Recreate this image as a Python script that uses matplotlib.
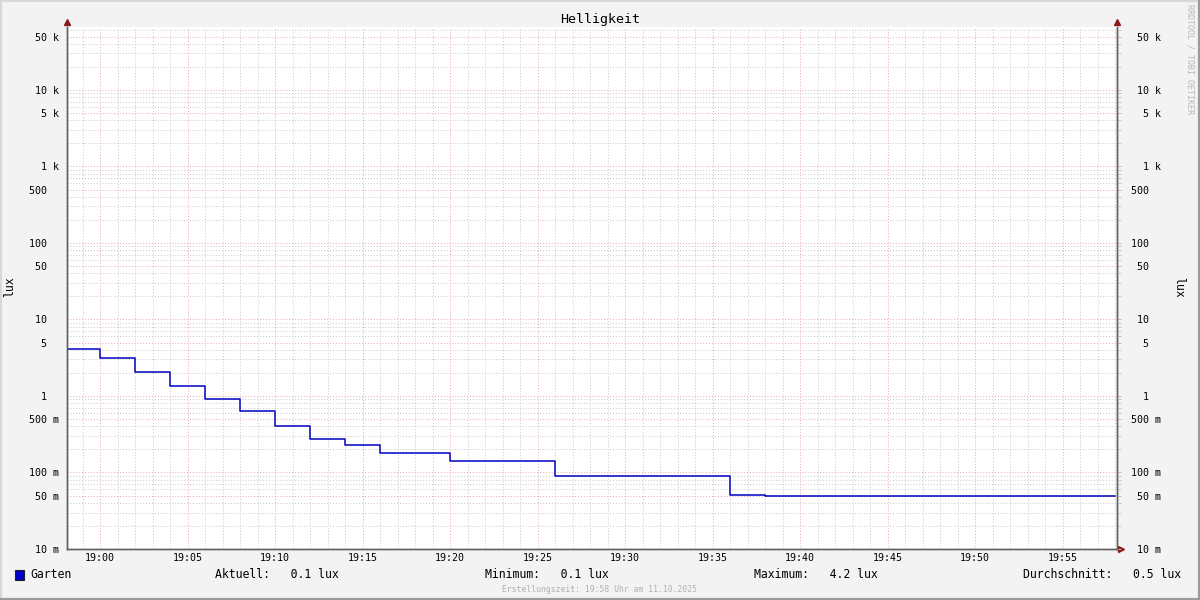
import matplotlib
matplotlib.use("Agg")
import matplotlib.pyplot as plt
from matplotlib.ticker import FixedLocator, FixedFormatter, LogLocator, MultipleLocator, NullFormatter
from matplotlib.lines import Line2D
from matplotlib.patches import Rectangle

# Messwerte (Stufen, jeweils gueltig ab Zeitpunkt)
zeiten = ["18:58", "19:00", "19:02", "19:04", "19:06", "19:08", "19:10", "19:12",
          "19:14", "19:16", "19:20", "19:26", "19:36", "19:38", "19:58"]
werte = [4.12, 3.14, 2.06, 1.35, 0.91, 0.64, 0.405, 0.274,
         0.229, 0.18, 0.141, 0.090, 0.051, 0.049, 0.049]

y_ticks = [0.01, 0.05, 0.1, 0.5, 1, 5, 10, 50, 100, 500, 1000, 5000, 1e4, 5e4]
y_zahl = ["10", "50", "100", "500", "1", "5", "10", "50", "100", "500", "1", "5", "10", "50"]
y_einheit = ["m", "m", "m", "m", " ", " ", " ", " ", " ", " ", "k", "k", "k", "k"]
x_ticks = [0, 5, 10, 15, 20, 25, 30, 35, 40, 45, 50, 55]
x_labels = ["19:00", "19:05", "19:10", "19:15", "19:20", "19:25", "19:30",
            "19:35", "19:40", "19:45", "19:50", "19:55"]

legende = [("Aktuell:   0.1 lux", 215), ("Minimum:   0.1 lux", 485),
           ("Maximum:   4.2 lux", 754), ("Durchschnitt:   0.5 lux", 1023)]


def minuten(t):
    h, m = t.split(":")
    return int(h) * 60 + int(m) - 19 * 60


# rrdtool-Stil: Zahl rechtsbuendig, Einheit in eigener Spalte
y_labels = ["%3s %s" % (z, e) for z, e in zip(y_zahl, y_einheit)]

W, H = 1200, 600
mono = "DejaVu Sans Mono"
grau = "#c8c8c8"; rot = "#e6a8a8"
fig = plt.figure(figsize=(12, 6), dpi=100, facecolor="#f3f3f3")
ax = fig.add_axes([67 / W, 1 - 549 / H, 1050 / W, 522 / H])
ax.set_facecolor("white")

xs = [minuten(t) for t in zeiten]
ax.step(xs, werte, where="post", color="#0000c0", lw=1.1, zorder=5)

ylim = (0.01, 10 ** 4.8235)
ax.set_yscale("log")
ax.set_ylim(*ylim)
ax.set_xlim(-1.886, 58.114)


def y_achse(a):
    a.yaxis.set_major_locator(FixedLocator(y_ticks))
    a.yaxis.set_major_formatter(FixedFormatter(y_labels))
    a.yaxis.set_minor_locator(LogLocator(base=10, subs=(2, 3, 4, 6, 7, 8, 9), numticks=20))
    a.yaxis.set_minor_formatter(NullFormatter())


y_achse(ax)
ax.xaxis.set_major_locator(FixedLocator(x_ticks))
ax.xaxis.set_major_formatter(FixedFormatter(x_labels))
ax.xaxis.set_minor_locator(MultipleLocator(1))

ax.grid(True, which="minor", color=grau, ls=(0, (1, 2)), lw=0.7)
ax.grid(True, which="major", color=rot, ls=(0, (1, 2)), lw=0.7)
ax.set_axisbelow(True)

ax.tick_params(axis="both", which="both", labelsize=7.2, labelcolor="black", length=0)
ax.tick_params(axis="y", which="major", pad=6)
ax.tick_params(axis="x", which="major", pad=3)

# rechte Achse (Gitterlinien ragen leicht ueber die Achse)
ax2 = ax.twinx()
ax2.set_yscale("log")
ax2.set_ylim(*ylim)
y_achse(ax2)
ax2.tick_params(axis="y", which="minor", length=3, direction="out", color=grau, width=0.7)
ax2.tick_params(axis="y", which="major", length=3, direction="out", color=rot, width=0.7,
                labelsize=7.2, labelcolor="black", pad=7)
for a in (ax, ax2):
    for s in ["left", "right", "bottom", "top"]:
        a.spines[s].set_color("#606060")
        a.spines[s].set_linewidth(1)
    a.spines["top"].set_visible(False)
for lab in ax.get_xticklabels() + ax.get_yticklabels() + ax2.get_yticklabels():
    lab.set_family(mono)

# Pfeile
pf = "#8b1a1a"
ax.plot([0], [1.01], marker="^", ms=4, color=pf, transform=ax.transAxes, clip_on=False)
ax.plot([1], [1.01], marker="^", ms=4, color=pf, transform=ax.transAxes, clip_on=False)
ax.plot([1.004], [0], marker=">", ms=4, color=pf, transform=ax.transAxes, clip_on=False)

fig.text(600 / W, 1 - 19 / H, "Helligkeit", ha="center", va="center", family=mono, fontsize=9.6)
fig.text(10 / W, 1 - 287 / H, "lux", rotation=90, ha="center", va="center", family=mono, fontsize=8.3)
fig.text(1179 / W, 1 - 287 / H, "lux", rotation=270, ha="center", va="center", family=mono, fontsize=8.3)
fig.text(1190 / W, 1 - 4 / H, "RRDTOOL / TOBI OETIKER", rotation=270, ha="center", va="top",
         family=mono, fontsize=6, color="#b8b8b8")

# Legende
fig.patches.append(Rectangle((15 / W, 1 - 580 / H), 9 / W, 10 / H, transform=fig.transFigure,
                             facecolor="#0000cc", edgecolor="#202020", lw=0.8))
fig.text(30 / W, 1 - 575 / H, "Garten", ha="left", va="center", family=mono, fontsize=8.3)
for txt, xp in legende:
    fig.text(xp / W, 1 - 575 / H, txt, ha="left", va="center", family=mono, fontsize=8.3)
fig.text(600 / W, 1 - 589 / H, "Erstellungszeit: 19:58 Uhr am 11.10.2025", ha="center",
         va="center", family=mono, fontsize=5.8, color="#b0b0b0")

# Rahmen
for (x0, y0, x1, y1, c) in [(0, 1, 1, 1, "#d8d8d8"), (0, 0, 0, 1, "#d8d8d8"),
                            (1, 0, 1, 1, "#9a9a9a"), (0, 0, 1, 0, "#9a9a9a")]:
    fig.lines.append(Line2D([x0, x1], [y0, y1], transform=fig.transFigure, color=c, lw=3))

fig.savefig("out.png", dpi=100, facecolor=fig.get_facecolor())
